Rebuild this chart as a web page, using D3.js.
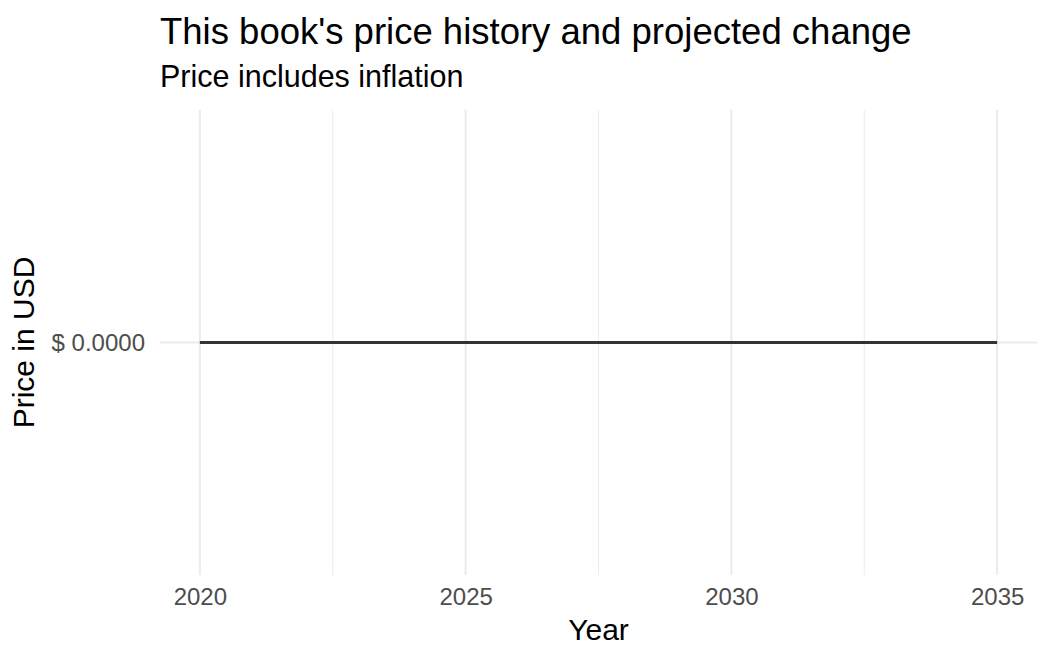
<!DOCTYPE html>
<html>
<head>
<meta charset="utf-8">
<script src="https://cdn.jsdelivr.net/npm/d3@7"></script>
<style>
  body { margin: 0; background: #fff; }
  text { font-family: "Liberation Sans", Arial, sans-serif; }
</style>
</head>
<body>
<figure id="priceChart" style="margin:0"></figure>
<script>
// data: price per year (flat at zero)
var years = [2020, 2021, 2022, 2023, 2024, 2025, 2026, 2027, 2028, 2029, 2030, 2031, 2032, 2033, 2034, 2035];
var prices = [0, 0, 0, 0, 0, 0, 0, 0, 0, 0, 0, 0, 0, 0, 0, 0];
var xTicks = [2020, 2025, 2030, 2035];
var xMinor = [2022.5, 2027.5, 2032.5];
var yTicks = [0];

var W = 1054, H = 662;
var margin = {top: 110, right: 17, bottom: 87, left: 160},
    width = W - margin.left - margin.right,
    height = H - margin.top - margin.bottom;

var svg = d3.select("figure#priceChart")
    .append("svg")
    .attr("width", W)
    .attr("height", H);

var g = svg.append("g")
    .attr("transform", "translate(" + margin.left + "," + margin.top + ")");

// ggplot style 5% expansion on x
var span = d3.max(years) - d3.min(years);
var x = d3.scaleLinear()
    .domain([d3.min(years) - span * 0.05, d3.max(years) + span * 0.05])
    .range([0, width]);

// zero range -> centre the value
var y = d3.scaleLinear()
    .domain([-1, 1])
    .range([height, 0]);

// minor grid
g.selectAll(".minor")
    .data(xMinor)
    .enter().append("line")
    .attr("x1", function(d) { return x(d); })
    .attr("x2", function(d) { return x(d); })
    .attr("y1", 0)
    .attr("y2", height)
    .attr("stroke", "#ebebeb")
    .attr("stroke-width", 1);

// major grid
g.selectAll(".major")
    .data(xTicks)
    .enter().append("line")
    .attr("x1", function(d) { return x(d); })
    .attr("x2", function(d) { return x(d); })
    .attr("y1", 0)
    .attr("y2", height)
    .attr("stroke", "#ebebeb")
    .attr("stroke-width", 2);

g.selectAll(".hmajor")
    .data(yTicks)
    .enter().append("line")
    .attr("x1", 0)
    .attr("x2", width)
    .attr("y1", function(d) { return y(d); })
    .attr("y2", function(d) { return y(d); })
    .attr("stroke", "#ebebeb")
    .attr("stroke-width", 2);

// axes (text only, like theme_minimal)
var xAxis = g.append("g")
    .attr("transform", "translate(0," + height + ")")
    .call(d3.axisBottom(x).tickValues(xTicks).tickFormat(d3.format("d")).tickSize(0).tickPadding(13));
xAxis.select(".domain").remove();
xAxis.selectAll("text")
    .attr("font-size", 24)
    .attr("fill", "#4d4d4d")
    .attr("font-family", "Liberation Sans, Arial, sans-serif");

var yAxis = g.append("g")
    .call(d3.axisLeft(y).tickValues(yTicks).tickFormat(function(d) { return "$ " + d3.format(".4f")(d); }).tickSize(0).tickPadding(15));
yAxis.select(".domain").remove();
yAxis.selectAll("text")
    .attr("font-size", 24)
    .attr("fill", "#4d4d4d")
    .attr("font-family", "Liberation Sans, Arial, sans-serif");

// the line
var line = d3.line()
    .x(function(d, i) { return x(years[i]); })
    .y(function(d) { return y(d); });

g.append("path")
    .datum(prices)
    .attr("d", line)
    .attr("fill", "none")
    .attr("stroke", "#333333")
    .attr("stroke-width", 3);

// titles
svg.append("text")
    .attr("x", 160).attr("y", 44)
    .attr("font-size", 36.5)
    .attr("fill", "#000")
    .text("This book's price history and projected change");

svg.append("text")
    .attr("x", 160).attr("y", 87)
    .attr("font-size", 30.5)
    .attr("fill", "#000")
    .text("Price includes inflation");

svg.append("text")
    .attr("x", margin.left + width / 2).attr("y", 640)
    .attr("text-anchor", "middle")
    .attr("font-size", 30)
    .attr("fill", "#000")
    .text("Year");

svg.append("text")
    .attr("transform", "translate(34," + (margin.top + height / 2) + ") rotate(-90)")
    .attr("text-anchor", "middle")
    .attr("font-size", 30)
    .attr("fill", "#000")
    .text("Price in USD");
</script>
</body>
</html>
